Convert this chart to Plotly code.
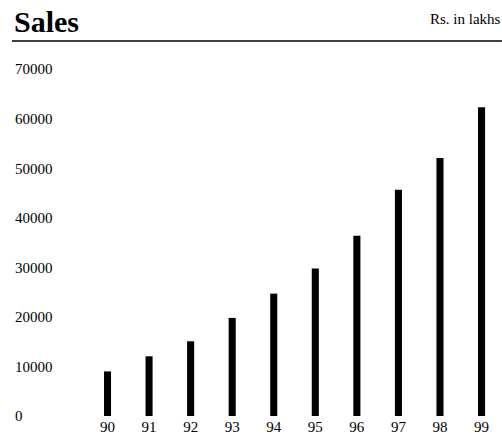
import plotly.graph_objects as go

years = ["90", "91", "92", "93", "94", "95", "96", "97", "98", "99"]
sales = [9000, 12050, 15080, 19800, 24700, 29750, 36400, 45650, 52050, 62300]
ytick_vals = [0, 10000, 20000, 30000, 40000, 50000, 60000, 70000]
ytick_text = ["0", "10000", "20000", "30000", "40000", "50000", "60000", "70000"]

SERIF = "Liberation Serif, Times New Roman, serif"

fig = go.Figure(
    go.Bar(
        x=years,
        y=sales,
        width=0.17,
        marker=dict(color="black", line=dict(width=0)),
    )
)

fig.update_layout(
    width=502,
    height=436,
    margin=dict(l=12, r=2, t=41, b=20),
    paper_bgcolor="white",
    plot_bgcolor="white",
    showlegend=False,
    font=dict(family=SERIF, color="black", size=15),
    xaxis=dict(
        type="category",
        range=[-2.298, 9.444],
        showgrid=False,
        zeroline=False,
        showline=False,
        ticks="",
        tickfont=dict(family=SERIF, size=15, color="black"),
    ),
    yaxis=dict(
        range=[0, 75690],
        tickvals=ytick_vals,
        ticktext=ytick_text,
        ticklabelposition="inside",
        ticklabeloverflow="allow",
        showgrid=False,
        zeroline=False,
        showline=False,
        ticks="",
        tickfont=dict(family=SERIF, size=15, color="black"),
    ),
    shapes=[
        dict(type="line", xref="paper", yref="paper", x0=0, x1=1.004, y0=1, y1=1,
             line=dict(color="black", width=1.5)),
    ],
    annotations=[
        dict(text="<b>Sales</b>", xref="paper", yref="paper", x=0.0, y=1.053,
             xanchor="left", yanchor="middle", showarrow=False,
             font=dict(family=SERIF, size=30, color="black")),
        dict(text="Rs. in lakhs", xref="paper", yref="paper", x=1.006, y=1.058,
             xanchor="right", yanchor="middle", showarrow=False,
             font=dict(family=SERIF, size=15, color="black")),
    ],
)

fig.write_html("out.html", config={"displayModeBar": False},
               post_script="document.body.style.margin='0';")
